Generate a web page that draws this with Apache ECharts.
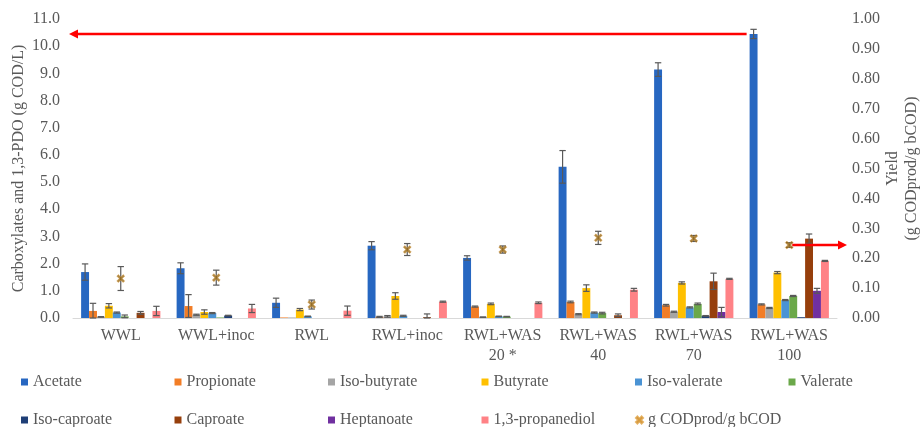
<!DOCTYPE html>
<html>
<head>
<meta charset="utf-8">
<script src="https://cdn.jsdelivr.net/npm/echarts@6/dist/echarts.min.js"></script>
<style>
  html, body { margin: 0; padding: 0; background: #fff; }
  #chart { width: 920px; height: 427px; }
</style>
</head>
<body>
<div id="chart"></div>
<script>
// Carboxylate / 1,3-PDO concentrations per feed condition, plus COD yield
const categories = ['WWL', 'WWL+inoc', 'RWL', 'RWL+inoc', 'RWL+WAS\n20 *', 'RWL+WAS\n40', 'RWL+WAS\n70', 'RWL+WAS\n100'];

const acetate        = [1.69, 1.83, 0.56, 2.66, 2.21, 5.56, 9.14, 10.45];
const acetateErr     = [0.30, 0.20, 0.17, 0.15, 0.08, 0.60, 0.25, 0.17];
const propionate     = [0.26, 0.44, 0.02, 0.04, 0.42, 0.59, 0.47, 0.50];
const propionateErr  = [0.28, 0.42, 0, 0.02, 0.02, 0.03, 0.03, 0.02];
const isoButyrate    = [0.04, 0.12, 0.02, 0.06, 0.03, 0.14, 0.23, 0.37];
const isoButyrateErr = [0.01, 0.02, 0, 0.03, 0.01, 0.02, 0.02, 0.02];
const butyrate       = [0.45, 0.22, 0.31, 0.81, 0.52, 1.10, 1.29, 1.67];
const butyrateErr    = [0.08, 0.08, 0.04, 0.12, 0.03, 0.12, 0.04, 0.04];
const isoValerate    = [0.20, 0.18, 0.06, 0.08, 0.06, 0.20, 0.39, 0.66];
const isoValerateErr = [0.02, 0.02, 0.01, 0.02, 0.01, 0.02, 0.02, 0.02];
const valerate       = [0.06, 0.02, 0, 0, 0.05, 0.18, 0.52, 0.81];
const valerateErr    = [0.05, 0, 0, 0, 0.01, 0.03, 0.03, 0.02];
const isoCaproate    = [0, 0.09, 0, 0, 0, 0, 0.08, 0.03];
const isoCaproateErr = [0, 0.01, 0, 0, 0, 0, 0.01, 0];
const caproate       = [0.19, 0, 0, 0.03, 0, 0.10, 1.35, 2.92];
const caproateErr    = [0.05, 0, 0, 0.12, 0, 0.05, 0.30, 0.17];
const heptanoate     = [0, 0, 0, 0, 0, 0, 0.22, 1.00];
const heptanoateErr  = [0, 0, 0, 0, 0, 0, 0.17, 0.09];
const propanediol    = [0.26, 0.35, 0.27, 0.60, 0.56, 1.04, 1.44, 2.10];
const propanediolErr = [0.17, 0.15, 0.17, 0.02, 0.03, 0.05, 0.02, 0.02];

const yieldValues    = [0.132, 0.135, 0.045, 0.229, 0.229, 0.268, 0.266, 0.244];
const yieldErr       = [0.040, 0.025, 0.015, 0.020, 0.012, 0.022, 0.010, 0.008];

const leftTicks  = { min: 0, max: 11, interval: 1 };
const rightTicks = { min: 0, max: 1, interval: 0.1 };

const barSeriesDefs = [
  { name: 'Acetate',         color: '#2767C1', values: acetate,     errors: acetateErr },
  { name: 'Propionate',      color: '#F27D26', values: propionate,  errors: propionateErr },
  { name: 'Iso-butyrate',    color: '#A5A5A5', values: isoButyrate, errors: isoButyrateErr },
  { name: 'Butyrate',        color: '#FFC000', values: butyrate,    errors: butyrateErr },
  { name: 'Iso-valerate',    color: '#4A93D4', values: isoValerate, errors: isoValerateErr },
  { name: 'Valerate',        color: '#6BA84A', values: valerate,    errors: valerateErr },
  { name: 'Iso-caproate',    color: '#1F3F77', values: isoCaproate, errors: isoCaproateErr },
  { name: 'Caproate',        color: '#963F0C', values: caproate,    errors: caproateErr },
  { name: 'Heptanoate',      color: '#7030A0', values: heptanoate,  errors: heptanoateErr },
  { name: '1,3-propanediol', color: '#FF8286', values: propanediol, errors: propanediolErr }
];
const yieldName = 'g CODprod/g bCOD';

const FONT = 'Liberation Serif';
const TXT = '#595959';
const CAT_GAP = 0.17;
const N_BARS = barSeriesDefs.length;
const X_MARK = 'path://M2,0 L5,3 L8,0 L10,2 L7,5 L10,8 L8,10 L5,7 L2,10 L0,8 L3,5 L0,2 Z';

// error-bar items: [category index, bar slot, value, error]
const errorItems = [];
barSeriesDefs.forEach((s, si) => {
  s.values.forEach((v, ci) => {
    if (s.errors[ci] > 0) errorItems.push([ci, si, v, s.errors[ci]]);
  });
});
const yieldErrItems = yieldValues.map((v, ci) => [ci, 0, v, yieldErr[ci]]);

function whisker(x, yTop, yBot, half) {
  const st = { stroke: '#595959', lineWidth: 1.2 };
  return {
    type: 'group',
    children: [
      { type: 'line', shape: { x1: x, y1: yTop, x2: x, y2: yBot }, style: st },
      { type: 'line', shape: { x1: x - half, y1: yTop, x2: x + half, y2: yTop }, style: st },
      { type: 'line', shape: { x1: x - half, y1: yBot, x2: x + half, y2: yBot }, style: st }
    ]
  };
}

function barErrorRender(params, api) {
  const ci = api.value(0), slot = api.value(1), v = api.value(2), e = api.value(3);
  const band = api.size([1, 0])[0];
  const groupW = band * (1 - CAT_GAP);
  const bw = groupW / N_BARS;
  const cx = api.coord([ci, v])[0] - groupW / 2 + bw * (slot + 0.5);
  const yTop = api.coord([ci, v + e])[1];
  const yBot = api.coord([ci, Math.max(v - e, 0)])[1];
  return whisker(cx, yTop, yBot, 3.2);
}

function yieldErrorRender(params, api) {
  const ci = api.value(0), v = api.value(2), e = api.value(3);
  const cx = api.coord([ci, v])[0];
  const yTop = api.coord([ci, v + e])[1];
  const yBot = api.coord([ci, Math.max(v - e, 0)])[1];
  return whisker(cx, yTop, yBot, 3.2);
}

const textBase = { color: TXT, fontFamily: FONT, fontSize: 16 };

const series = barSeriesDefs.map(s => ({
  name: s.name,
  type: 'bar',
  data: s.values,
  yAxisIndex: 0,
  barGap: '0%',
  barCategoryGap: (CAT_GAP * 100) + '%',
  itemStyle: { color: s.color },
  emphasis: { disabled: true }
}));
series.push({
  name: 'barErrors', type: 'custom', yAxisIndex: 0, z: 5,
  renderItem: barErrorRender, data: errorItems, silent: true
});
series.push({
  name: 'yieldErrors', type: 'custom', yAxisIndex: 1, z: 5,
  renderItem: yieldErrorRender, data: yieldErrItems, silent: true
});
series.push({
  name: yieldName, type: 'scatter', yAxisIndex: 1, z: 6,
  data: yieldValues,
  symbol: X_MARK, symbolSize: 8,
  itemStyle: { color: '#9A6A16', borderColor: '#E0A040', borderWidth: 0.5 }
});

// legend: two rows on a fixed column pitch, one component per entry
const legendNames = barSeriesDefs.map(s => s.name).concat([yieldName]);
const LEG_COLS = 6, LEG_LEFT = 21, LEG_PITCH = 153.5, LEG_ROW_TOPS = [374, 412];
const legends = legendNames.map((name, i) => ({
  orient: 'horizontal',
  left: LEG_LEFT + (i % LEG_COLS) * LEG_PITCH,
  top: LEG_ROW_TOPS[Math.floor(i / LEG_COLS)],
  padding: 0,
  itemWidth: 7, itemHeight: 7, itemGap: 0,
  textStyle: Object.assign({}, textBase, { padding: [0, 0, 0, 0] }),
  data: [name === yieldName ? { name: name, icon: X_MARK } : { name: name, icon: 'rect' }]
}));

const option = {
  animation: false,
  backgroundColor: '#ffffff',
  grid: { left: 73, right: 83, top: 19, bottom: 109, outerBoundsMode: 'none', containLabel: false },
  legend: legends,
  xAxis: {
    type: 'category', data: categories,
    axisLine: { lineStyle: { color: '#D9D9D9', width: 1 } },
    axisTick: { show: false },
    axisLabel: Object.assign({}, textBase, { interval: 0, margin: 8, lineHeight: 20 })
  },
  yAxis: [
    Object.assign({ type: 'value' }, leftTicks, {
      position: 'left',
      axisLine: { show: false }, axisTick: { show: false }, splitLine: { show: false },
      axisLabel: Object.assign({}, textBase, { margin: 13, formatter: v => v.toFixed(1) }),
      name: 'Carboxylates and 1,3-PDO (g COD/L)',
      nameLocation: 'middle', nameGap: 46, nameRotate: 90, nameMoveOverlap: false,
      nameTextStyle: textBase
    }),
    Object.assign({ type: 'value' }, rightTicks, {
      position: 'right',
      axisLine: { show: false }, axisTick: { show: false }, splitLine: { show: false },
      axisLabel: Object.assign({}, textBase, { margin: 15, formatter: v => v.toFixed(2) }),
      name: 'Yield\n(g CODprod/g bCOD)',
      nameLocation: 'middle', nameGap: 46, nameRotate: 90, nameMoveOverlap: false,
      nameTextStyle: Object.assign({}, textBase, { lineHeight: 19 })
    })
  ],
  series: series
};

const chart = echarts.init(document.getElementById('chart'), null, { renderer: 'canvas' });
chart.setOption(option);

// Red pointer arrows: top acetate level to the left axis, last yield to the right axis
function arrow(x1, y, x2) {
  const dir = x2 < x1 ? -1 : 1;
  const headLen = 9, headHalf = 4.5;
  const st = { stroke: '#FF0000', lineWidth: 2.5 };
  return [
    { type: 'line', shape: { x1: x1, y1: y, x2: x2 - dir * headLen * 0.8, y2: y }, style: st, z: 100 },
    { type: 'polygon', shape: { points: [[x2, y], [x2 - dir * headLen, y - headHalf], [x2 - dir * headLen, y + headHalf]] },
      style: { fill: '#FF0000' }, z: 100 }
  ];
}
const last = categories.length - 1;
const gridRect = chart.getModel().getComponent('grid', 0).coordinateSystem.getRect();
const catBand = gridRect.width / categories.length;
const groupW = catBand * (1 - CAT_GAP);
const acetPt = chart.convertToPixel({ xAxisIndex: 0, yAxisIndex: 0 }, [last, acetate[last]]);
const acetLeft = acetPt[0] - groupW / 2;
const yieldPt = chart.convertToPixel({ xAxisIndex: 0, yAxisIndex: 1 }, [last, yieldValues[last]]);

chart.setOption({
  graphic: [].concat(
    arrow(acetLeft - 3, acetPt[1], gridRect.x - 4),
    arrow(yieldPt[0] + 3, yieldPt[1], gridRect.x + gridRect.width + 10)
  )
});
</script>
</body>
</html>
